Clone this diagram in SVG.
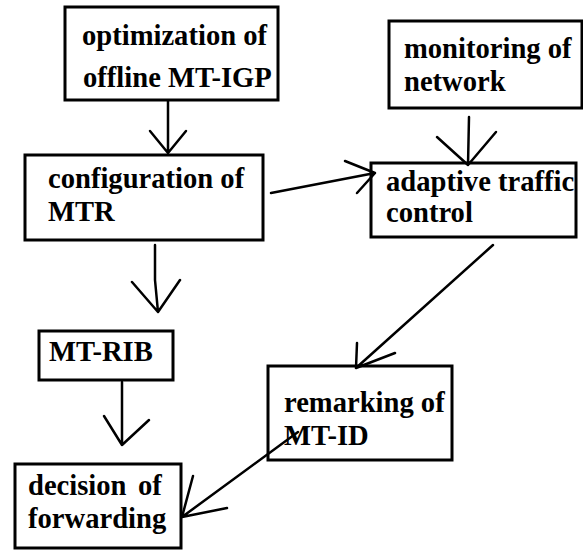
<svg xmlns="http://www.w3.org/2000/svg" width="583" height="550" viewBox="0 0 583 550">
  <style>
    .box { fill: #ffffff; stroke: #000000; stroke-width: 3; }
    .lbl { font-family: "Liberation Serif", "Times New Roman", serif; font-weight: bold; font-size: 28.6px; fill: #000000; }
    .wire { fill: none; stroke: #000000; stroke-width: 2.5; stroke-linecap: round; stroke-linejoin: round; }
  </style>
  <rect width="583" height="550" fill="#ffffff"/>

  <g id="node-optimization">
    <rect class="box" x="65" y="7" width="213" height="93"/>
    <text class="lbl" x="82" y="45">optimization of</text>
    <text class="lbl" x="83" y="87">offline MT-IGP</text>
  </g>

  <g id="node-monitoring">
    <rect class="box" x="389" y="21" width="193" height="87"/>
    <text class="lbl" x="404" y="58">monitoring of</text>
    <text class="lbl" x="404" y="91">network</text>
  </g>

  <g id="node-configuration">
    <rect class="box" x="25" y="155" width="238" height="85"/>
    <text class="lbl" x="48" y="188">configuration of</text>
    <text class="lbl" x="48" y="221">MTR</text>
  </g>

  <g id="node-adaptive">
    <rect class="box" x="371" y="163" width="205" height="74"/>
    <text class="lbl" x="386" y="191">adaptive traffic</text>
    <text class="lbl" x="386" y="222">control</text>
  </g>

  <g id="node-mtrib">
    <rect class="box" x="39" y="331" width="134" height="49"/>
    <text class="lbl" x="49" y="361">MT-RIB</text>
  </g>

  <g id="node-remarking">
    <rect class="box" x="268" y="366" width="184" height="94"/>
    <text class="lbl" x="284" y="412">remarking of</text>
    <text class="lbl" x="284" y="445">MT-ID</text>
  </g>

  <g id="node-decision">
    <rect class="box" x="15" y="464" width="166" height="84"/>
    <text class="lbl" x="28" y="495">decision</text>
    <text class="lbl" x="138" y="495">of</text>
    <text class="lbl" x="28" y="528">forwarding</text>
  </g>

  <g id="connectors">
    <!-- optimization -> configuration -->
    <path class="wire" d="M168 101 L168 153 M150 131 L168 153 L186 131"/>
    <!-- monitoring -> adaptive -->
    <path class="wire" d="M469 117 L468 165 M437 137 L468 165 L496 132"/>
    <!-- configuration -> adaptive -->
    <path class="wire" d="M271 193 L375 173 M345 161 L375 173 L357 193"/>
    <!-- configuration -> MT-RIB -->
    <path class="wire" d="M155 245 L155 280 L158 312 M132 282 L158 312 L180 280"/>
    <!-- MT-RIB -> decision -->
    <path class="wire" d="M122 382 L122 445 M104 416 L122 445 L149 420"/>
    <!-- adaptive -> remarking -->
    <path class="wire" d="M493 245 L356 368 M357 343 L356 368 L395 353"/>
    <!-- remarking -> decision -->
    <path class="wire" d="M298 432 L182 517 M193 476 L182 517 L227 508"/>
  </g>
</svg>
